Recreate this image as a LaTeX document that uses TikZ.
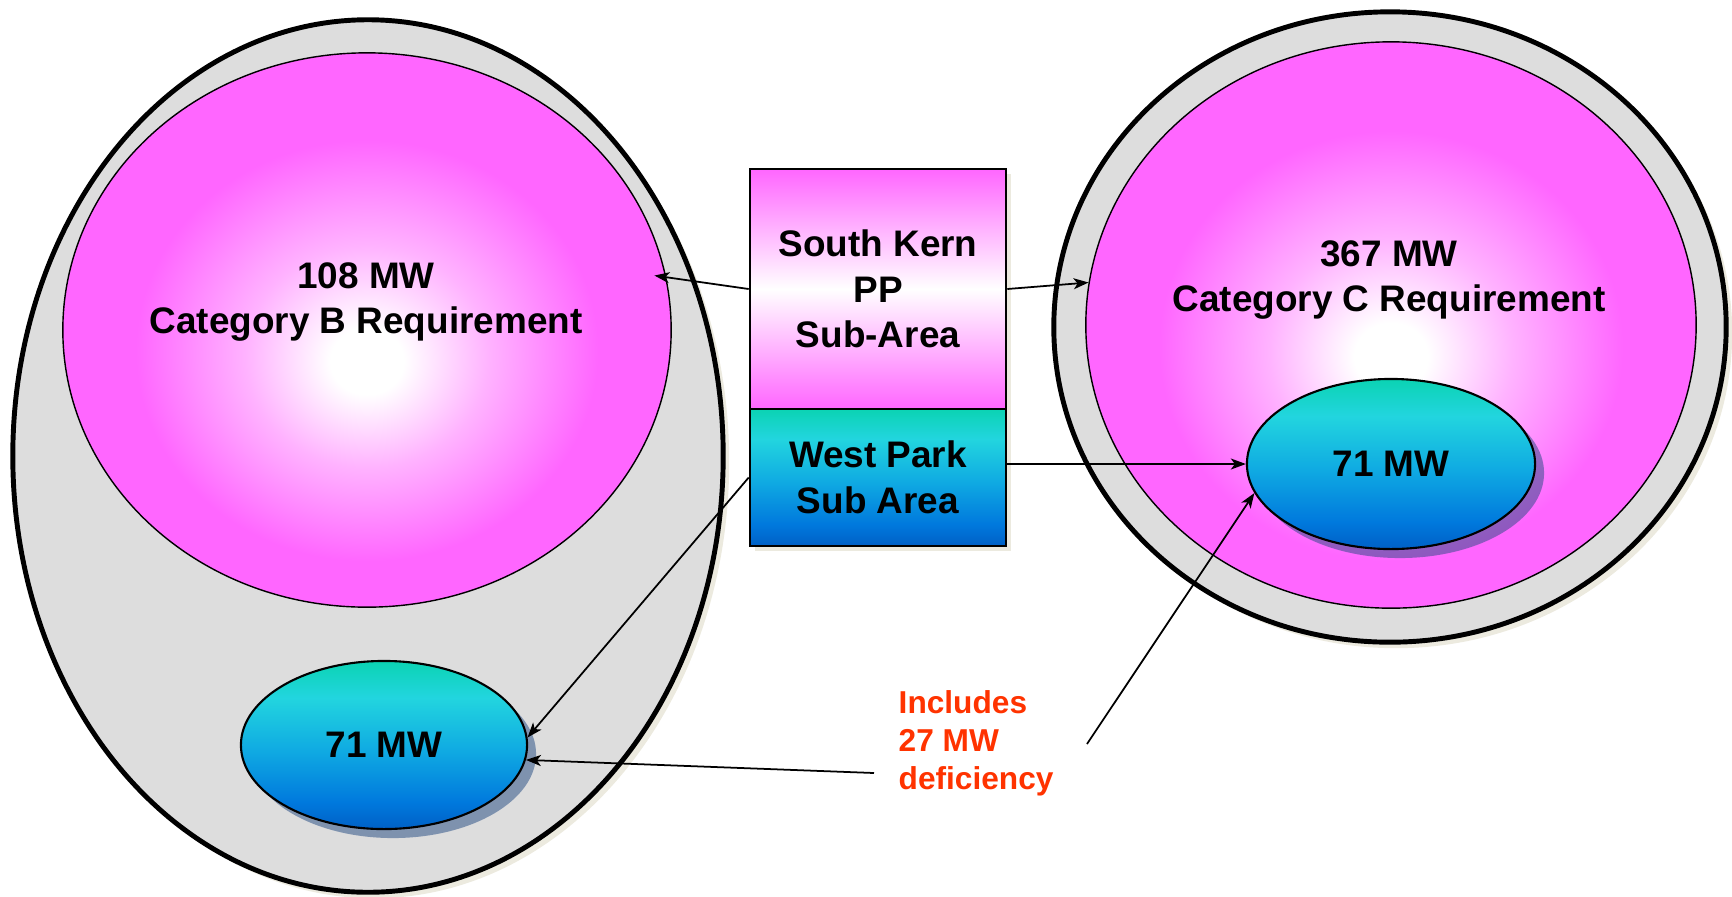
\documentclass[tikz,border=0pt]{standalone}
\usepackage{fontspec}
\setmainfont{Liberation Sans}
\usetikzlibrary{shapes.geometric,arrows.meta,shadows}

\definecolor{pinkM}{HTML}{FF66FF}
\definecolor{areaGrey}{HTML}{DDDDDD}
\definecolor{noteRed}{HTML}{FF3300}
\definecolor{wpTeal}{HTML}{0BD3B3}
\definecolor{wpCyan}{HTML}{22D5DF}
\definecolor{wpSky}{HTML}{0FA9E2}
\definecolor{wpBlue}{HTML}{0079DD}
\definecolor{wpDeep}{HTML}{0060C6}
\definecolor{shadeBlue}{HTML}{214981}
\definecolor{shadeBeige}{HTML}{ECEADF}

\pgfdeclareradialshading{pinkglow}{\pgfpoint{0bp}{-3bp}}{color(0bp)=(white); color(3bp)=(white); color(10bp)=(pinkM!50!white); color(19bp)=(pinkM); color(50bp)=(pinkM)}
\pgfdeclareverticalshading{westpark}{100bp}{color(0bp)=(wpDeep); color(25bp)=(wpDeep); color(33bp)=(wpBlue); color(48bp)=(wpSky); color(64bp)=(wpCyan); color(75bp)=(wpTeal); color(100bp)=(wpTeal)}

\newcommand{\mwfont}{\fontsize{10.5}{13}\selectfont\bfseries}

\tikzset{
  area/.style={ellipse,draw,line width=1.4pt,fill=areaGrey,inner sep=0pt,
    drop shadow={shadow xshift=0.06cm,shadow yshift=-0.06cm,fill=shadeBeige,opacity=1}},
  req/.style={ellipse,draw,line width=0.4pt,shade,shading=pinkglow,inner sep=0pt},
  mw/.style={ellipse,draw,line width=0.6pt,shade,shading=westpark,inner sep=0pt,font=\mwfont,
    drop shadow={shadow xshift=0.09cm,shadow yshift=-0.09cm,fill=shadeBlue,opacity=0.5}},
  sub/.style={rectangle,draw,line width=0.7pt,minimum width=2.56cm,align=center,font=\mwfont,inner sep=0pt,
    drop shadow={shadow xshift=0.05cm,shadow yshift=-0.05cm,fill=shadeBeige,opacity=1}},
  lbl/.style={align=center,font=\mwfont},
  note/.style={anchor=west,align=left,inner sep=0pt,text=noteRed,font=\fontsize{9}{10.8}\selectfont\bfseries},
  link/.style={line width=0.5pt,-{Stealth[length=1.5mm,width=1.1mm,inset=0.4mm]}}
}

\begin{document}
\begin{tikzpicture}[x=0.01cm,y=-0.01cm]
\useasboundingbox (0,0) rectangle (1732,896);

\node [area,minimum width=7.10cm,minimum height=8.72cm] at (368,456) (areaB) {};

\node [req,minimum width=6.08cm,minimum height=5.54cm] at (367,330) (pinkB) {};

\node [mw,minimum width=2.86cm,minimum height=1.68cm] at (384,745) (mwB) {71 MW};

\node [lbl] at (366,302) (reqB) {108 MW\\Category B Requirement};

\node [area,minimum width=6.72cm,minimum height=6.30cm] at (1390,327) (areaC) {};

\node [req,minimum width=6.10cm,minimum height=5.66cm] at (1391,325) (pinkC) {};

\node [mw,minimum width=2.88cm,minimum height=1.70cm] at (1391,464) (mwC) {71 MW};

\node [lbl] at (1389,280) (reqC) {367 MW\\Category C Requirement};

\node [sub,minimum height=2.40cm,top color=pinkM,bottom color=pinkM,middle color=white] at (878,289) (kern) {South Kern\\PP\\Sub-Area};

\node [sub,minimum height=1.37cm,shade,shading=westpark] at (878,477.5) (park) {West Park\\Sub Area};

\node [note] at (898,743) (note) {Includes\\27 MW\\deficiency};

\coordinate (noteL) at (874,773);
\coordinate (noteR) at (1087,744);

\draw [link,shorten >=-1.2mm] (kern.west) -- (pinkB.10);

\draw [link] (kern.east) -- (pinkC.172);

\draw [link] (park.east |- mwC.west) -- (mwC.west);

\draw [link] (park.west) -- (mwB.3);

\draw [link] (noteL) -- (mwB.354);

\draw [link] (noteR) -- (mwC.192);
\end{tikzpicture}
\end{document}
